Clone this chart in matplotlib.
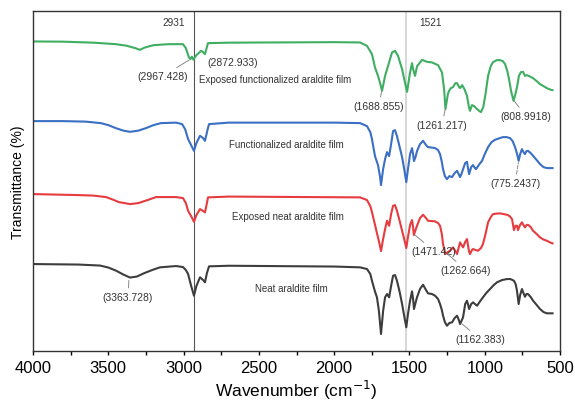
import matplotlib
matplotlib.use("Agg")
import matplotlib.pyplot as plt

plt.rcParams['font.family'] = ['Liberation Sans', 'DejaVu Sans']

# Exposed functionalized araldite film (green)
wn_green = [4000, 3800, 3600, 3450, 3380, 3320, 3290, 3260, 3200, 3100, 3004, 2985, 2965, 2955,
            2945, 2935, 2915, 2884, 2870, 2858, 2838, 2700, 2000, 1828, 1782, 1749, 1729, 1709,
            1695, 1682, 1662, 1642, 1616, 1596, 1576, 1549, 1530, 1516, 1496, 1483, 1476, 1463,
            1450, 1417, 1383, 1350, 1310, 1284, 1270, 1261, 1245, 1237, 1225, 1211, 1195, 1184,
            1170, 1164, 1150, 1135, 1118, 1105, 1098, 1085, 1070, 1051, 1035, 1025, 1010, 995,
            978, 960, 945, 920, 899, 880, 865, 850, 839, 825, 809, 795, 786, 773, 760, 746, 733,
            720, 705, 679, 655, 633, 610, 587, 565, 550]
t_green = [309.7, 309.5, 308.5, 307, 305.5, 303, 301.3, 303.5, 306, 307, 307, 303, 294, 292,
           294.5, 291.5, 296, 300.3, 299, 297, 308, 308.5, 309, 308.7, 305.3, 297, 283.7, 275.3,
           268, 260.3, 275.3, 285.3, 298.7, 300.3, 295.3, 282, 268.7, 259.3, 278.7, 288, 282, 275.3,
           284.7, 291.3, 289.3, 288.7, 286, 278.7, 262, 242, 257, 260.3, 263, 264, 268, 268,
           264, 263, 266, 262, 255.3, 244, 240.3, 246, 245, 242, 240, 239, 244, 257,
           275.3, 285, 289, 291, 291, 290, 287, 280, 272, 260, 250.3, 258, 264, 275.3, 279, 279.3,
           275.3, 276, 275, 273, 270, 267, 265, 263, 261.5, 261]

# Functionalized araldite film (blue)
wn_blue = [4000, 3800, 3650, 3550, 3500, 3450, 3400, 3356, 3300, 3250, 3200, 3150, 3050, 3010,
           2990, 2970, 2950, 2931, 2915, 2891, 2870, 2858, 2840, 2831, 2700, 2000, 1828, 1782,
           1760, 1749, 1729, 1709, 1695, 1689, 1675, 1662, 1649, 1635, 1622, 1609, 1596, 1583,
           1565, 1549, 1535, 1521, 1510, 1496, 1483, 1476, 1470, 1460, 1450, 1430, 1410, 1390,
           1377, 1350, 1330, 1310, 1297, 1285, 1277, 1265, 1251, 1235, 1217, 1200, 1184, 1170,
           1164, 1155, 1144, 1130, 1118, 1110, 1104, 1090, 1078, 1065, 1058, 1040, 1018, 1000,
           978, 955, 932, 900, 879, 855, 832, 815, 799, 785, 775, 765, 753, 743, 733, 723, 713,
           695, 679, 655, 633, 610, 587, 550]
t_blue = [230, 230, 229.5, 228, 226, 223, 220.5, 219.3, 220.5, 223, 226, 228, 228.5, 227,
          222, 212, 206, 200.3, 208, 215.3, 213, 210.3, 222, 227, 228.5, 228.5, 228, 225,
          219, 212, 195, 186, 174, 166, 182, 192, 199, 195, 207, 220, 221, 215,
          204, 194, 182, 169, 182, 197, 203, 197, 190, 194, 200, 207, 210.3, 206,
          204, 203.5, 203, 201, 197, 189, 182, 175, 172, 175, 174, 178, 180.3, 176,
          174, 177, 182, 188, 189.3, 182, 177, 184, 186, 183, 182, 186, 190.3, 197,
          204, 209, 211.3, 213, 214, 214, 213, 210, 204, 197, 190.3, 197, 202, 199, 197, 200, 200.3,
          198, 195.3, 191, 187, 184, 183, 183]

# Exposed neat araldite film (red)
wn_red = [4000, 3700, 3600, 3515, 3470, 3430, 3356, 3300, 3240, 3183, 3050, 3004, 2985, 2970,
          2950, 2931, 2915, 2891, 2870, 2858, 2845, 2838, 2700, 1828, 1782, 1760, 1749, 1730,
          1716, 1700, 1689, 1675, 1662, 1649, 1635, 1622, 1609, 1596, 1583, 1565, 1549, 1535,
          1521, 1510, 1496, 1483, 1476, 1471, 1460, 1450, 1430, 1410, 1390, 1377, 1350, 1330,
          1310, 1297, 1285, 1277, 1262, 1245, 1231, 1211, 1195, 1184, 1172, 1164, 1150, 1144,
          1130, 1118, 1105, 1098, 1085, 1078, 1060, 1045, 1025, 1012, 995, 978, 960, 945, 920,
          899, 875, 852, 835, 819, 806, 796, 786, 779, 766, 753, 743, 733, 723, 713, 695, 679,
          655, 633, 610, 587, 565, 550]
t_red = [157, 156, 155.5, 154, 151.5, 149, 147, 148, 151, 154, 154, 153, 148, 140.3,
         135, 129.3, 136, 142, 140, 138.7, 148, 153.7, 154.5, 153.7, 151, 145, 139, 127,
         118, 108, 100, 112, 122, 130.3, 125.3, 137, 145.3, 146, 140.3, 130, 120.3, 112,
         103, 114, 126, 131, 124, 116, 121, 125.3, 133, 136.3, 133, 130.3, 130, 129.7,
         128, 125.3, 117, 107, 97, 99, 100.3, 103.7, 100, 97, 104, 108.7, 105, 103.7,
         109, 112, 100, 97, 101, 102, 101, 100.3, 103, 107, 117, 128.7, 134, 137, 137.5,
         137.7, 137, 136.3, 135, 132, 121, 125.3, 125.3, 121, 126, 128.7, 126, 123.7, 126, 126.3, 124, 120.3,
         117, 113.7, 111.5, 110.3, 108.5, 107.7]

# Neat araldite film (black)
wn_black = [4000, 3700, 3555, 3500, 3450, 3400, 3356, 3310, 3260, 3200, 3157, 3050, 3004, 2985,
            2970, 2950, 2931, 2915, 2891, 2870, 2858, 2845, 2831, 2700, 2000, 1828, 1782, 1760,
            1749, 1730, 1716, 1703, 1695, 1689, 1675, 1662, 1649, 1635, 1622, 1609, 1596, 1583,
            1565, 1549, 1535, 1521, 1510, 1496, 1483, 1476, 1470, 1460, 1450, 1430, 1410, 1390,
            1377, 1350, 1330, 1310, 1297, 1285, 1277, 1265, 1251, 1235, 1217, 1200, 1184, 1172,
            1164, 1155, 1144, 1130, 1118, 1110, 1104, 1090, 1078, 1065, 1051, 1030, 1012, 990,
            965, 940, 919, 885, 852, 830, 806, 795, 786, 775, 765, 753, 743, 733, 723, 713, 695,
            679, 655, 633, 610, 587, 550]
t_black = [87, 86.5, 85.5, 83.5, 80.5, 76.5, 73.5, 74.5, 78, 81.5, 83.7, 85, 84, 81,
           77, 65.3, 55.3, 65, 73.7, 71, 68.7, 78, 84.7, 85.3, 84.5, 83.7, 82, 77,
           70.3, 60, 53.7, 40.3, 27, 17, 40, 53.7, 57, 53.7, 65, 75.3, 76, 70.3,
           59, 47, 35, 23.7, 37, 50.3, 59.7, 52, 42, 48, 53.7, 62, 66.3, 61,
           57.7, 57, 55.3, 52, 47, 41, 35.3, 29, 25.3, 28, 28.7, 33, 35.3, 31,
           27, 30, 33.7, 47, 50.3, 46, 42, 47, 48.7, 47, 45.3, 50, 53.7, 58,
           62, 66, 68.7, 71, 72, 72, 70.3, 67, 60.3, 47, 56, 62, 58, 54.3, 57, 57, 54,
           50.3, 46, 42, 39, 37.7, 37.7]

series_names = ["Exposed functionalized araldite film", "Functionalized araldite film",
                "Exposed neat araldite film", "Neat araldite film"]
xticks = [4000, 3500, 3000, 2500, 2000, 1500, 1000, 500]
ref_lines = [2931, 1521]

# peak labels: (text, point wn, point T, text wn, text T, linestyle)
peak_labels = [
    ("(2967.428)", 2955, 292, 3137, 275, '-'),
    ("(2872.933)", None, None, 2672, 289, '-'),
    ("(1688.855)", 1684, 261, 1702, 245, '-'),
    ("(1261.217)", 1261, 243, 1284, 226, '-'),
    ("(808.9918)", 809, 251, 726, 235, '-'),
    ("(775.2437)", 775, 190, 799, 168, '--'),
    ("(1471.42)", 1471, 117, 1337, 100, '-'),
    ("(1262.664)", 1255, 98, 1124, 81, '-'),
    ("(1162.383)", 1158, 28, 1031, 12, '-'),
    ("(3363.728)", 3363, 72, 3369, 54, '-'),
]

fig = plt.figure(figsize=(5.75, 4.06), dpi=100)
ax = fig.add_axes([0.0574, 0.133, 0.9166, 0.837])

ax.axvline(ref_lines[0], color='#555555', lw=0.8, zorder=1)
ax.axvline(ref_lines[1], color='#d0d0d0', lw=1.2, zorder=1)

ax.plot(wn_green, t_green, color='#3fae62', lw=1.5)
ax.plot(wn_blue, t_blue, color='#3b6fc4', lw=1.5)
ax.plot(wn_red, t_red, color='#e63b3f', lw=1.5)
ax.plot(wn_black, t_black, color='#3d3d3d', lw=1.5)

ax.set_xlim(4000, 500)
ax.set_ylim(0, 340)

tc = '#333333'
ax.text(3064, 329, "2931", fontsize=7.2, color=tc, ha='center', va='center')
ax.text(1363, 329, "1521", fontsize=7.2, color=tc, ha='center', va='center')

ax.text(2898, 272, series_names[0], fontsize=7, color=tc, ha='left', va='center')
ax.text(2698, 207, series_names[1], fontsize=7, color=tc, ha='left', va='center')
ax.text(2678, 135, series_names[2], fontsize=7, color=tc, ha='left', va='center')
ax.text(2526, 63, series_names[3], fontsize=7, color=tc, ha='left', va='center')

for txt, px, py, tx, ty, ls in peak_labels:
    if px is None:
        ax.text(tx, ty, txt, fontsize=7.5, color=tc, ha='center', va='center')
    else:
        ax.annotate(txt, xy=(px, py), xytext=(tx, ty), fontsize=7.5, color=tc,
                    ha='center', va='center',
                    arrowprops=dict(arrowstyle='-', color='#888888', lw=0.7, ls=ls,
                                    shrinkA=1, shrinkB=1))

ax.set_xticks(xticks)
ax.set_xticks(range(500, 4001, 250), minor=True)
ax.set_yticks([])
ax.tick_params(axis='x', which='both', direction='out', length=3, width=1, labelsize=12)
for s in ax.spines.values():
    s.set_linewidth(1.0)
    s.set_color('#333333')

ax.set_xlabel("Wavenumber (cm$^{-1}$)", fontsize=12.5, labelpad=2)
ax.set_ylabel("Transmittance (%)", fontsize=10, labelpad=6)

fig.savefig("out.png", dpi=100)
